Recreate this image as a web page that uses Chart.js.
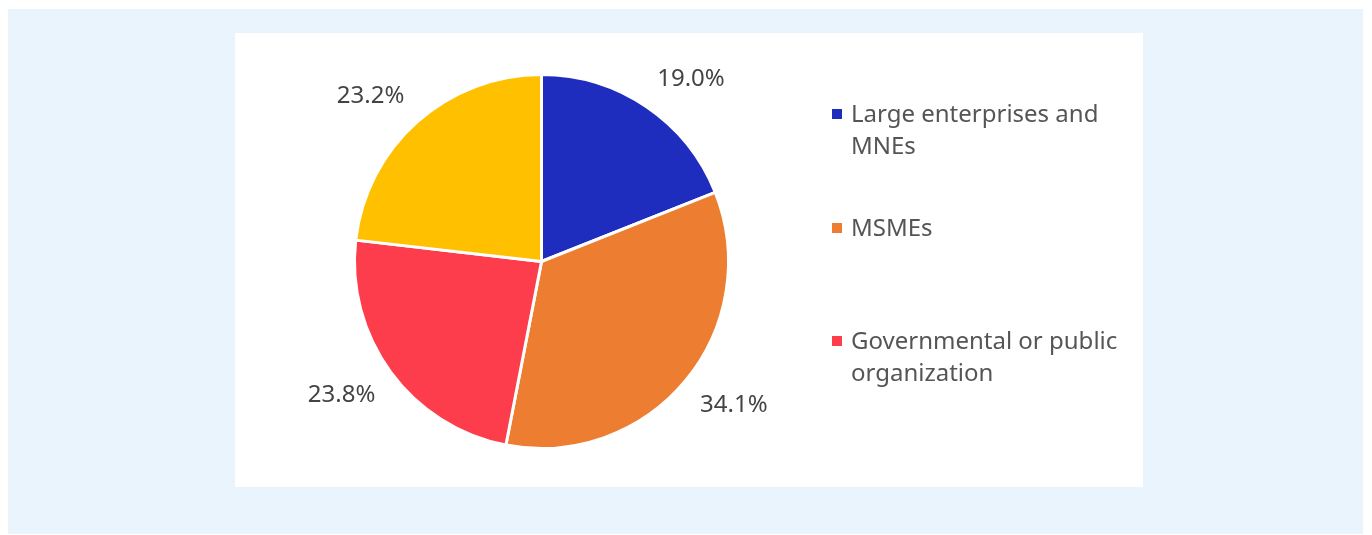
<!DOCTYPE html>
<html lang="en">
<head>
  <meta charset="UTF-8">
  <title>Share by organization type</title>
  <script src="https://cdn.jsdelivr.net/npm/chart.js"></script>
  <style>
    body {
      margin: 0;
      background: #ffffff;
      font-family: 'Noto Sans', sans-serif;
    }
    .outer {
      position: absolute;
      left: 8px; top: 9px;
      width: 1355px; height: 525px;
      background: #eaf4fd;
    }
    .panel {
      position: absolute;
      left: 235px; top: 33px;
      width: 908px; height: 454px;
      background: #ffffff;
    }
    #pie { position: absolute; left: 0; top: 0; }
    .legend-item {
      position: absolute;
      left: 597px;
      width: 290px;
      padding-left: 19px;
      font-size: 24px;
      line-height: 32px;
      color: #555555;
    }
    .legend-item span {
      position: absolute;
      left: 0; top: 12px;
      width: 10px; height: 10px;
    }
  </style>
</head>
<body>
  <div class="outer"></div>
  <div class="panel">
    <canvas id="pie" width="908" height="454"></canvas>
    <div id="legend"></div>
  </div>

  <script>
    // datos
    const categories = ['Large enterprises and MNEs', 'MSMEs', 'Governmental or public organization', 'Other'];
    const shares = [19.0, 34.1, 23.8, 23.2];
    const colors = ['#1f2dbf', '#ed7d31', '#fd3c4c', '#ffc000'];
    const legendCount = 3; // the yellow slice has no legend entry

    // legend (HTML)
    const legendTops = [64, 178, 291];
    const legendEl = document.getElementById('legend');
    for (let i = 0; i < legendCount; i++) {
      const d = document.createElement('div');
      d.className = 'legend-item';
      d.style.top = legendTops[i] + 'px';
      d.innerHTML = '<span style="background:' + colors[i] + '"></span>' + categories[i];
      legendEl.appendChild(d);
    }

    // outside percentage labels
    const outsideLabels = {
      id: 'outsideLabels',
      afterDatasetsDraw(chart) {
        const ctx = chart.ctx;
        const meta = chart.getDatasetMeta(0);
        ctx.save();
        ctx.font = '24px "Noto Sans"';
        ctx.fillStyle = '#444444';
        meta.data.forEach((arc, i) => {
          const mid = (arc.startAngle + arc.endAngle) / 2;
          const r = arc.outerRadius + 19;
          const x = arc.x + Math.cos(mid) * r;
          const y = arc.y + Math.sin(mid) * r;
          ctx.textAlign = Math.cos(mid) >= 0 ? 'left' : 'right';
          ctx.textBaseline = Math.sin(mid) < 0 ? 'bottom' : 'top';
          ctx.fillText(shares[i].toFixed(1) + '%', x, y);
        });
        ctx.restore();
      }
    };

    new Chart(document.getElementById('pie'), {
      type: 'pie',
      data: {
        labels: categories,
        datasets: [{
          data: shares,
          backgroundColor: colors,
          borderColor: '#ffffff',
          borderWidth: 3,
          hoverOffset: 0
        }]
      },
      options: {
        responsive: false,
        animation: false,
        layout: { padding: { left: 118, right: 413, top: 40, bottom: 37 } },
        plugins: {
          legend: { display: false },
          tooltip: { enabled: false }
        }
      },
      plugins: [outsideLabels]
    });
  </script>
</body>
</html>
